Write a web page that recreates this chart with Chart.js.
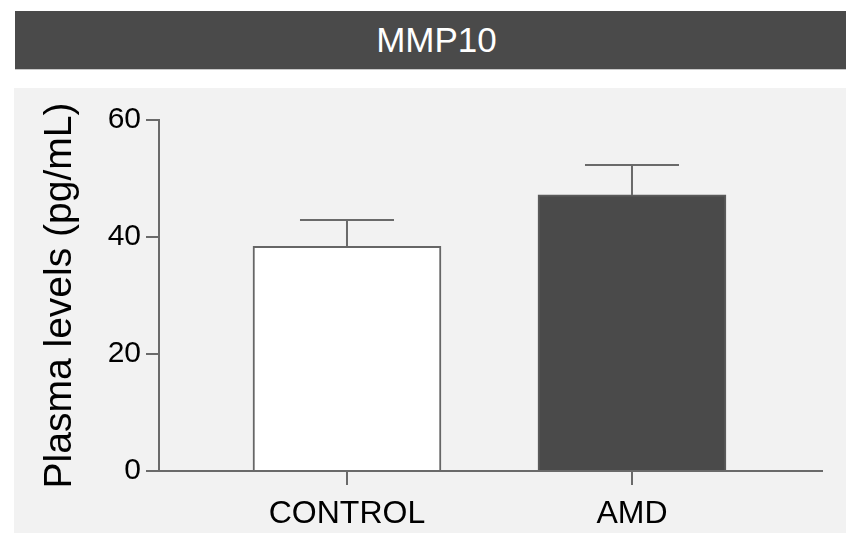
<!DOCTYPE html>
<html>
<head>
<meta charset="utf-8">
<script src="https://cdn.jsdelivr.net/npm/chart.js@4/dist/chart.umd.min.js"></script>
<style>
  html, body { margin: 0; padding: 0; background: #ffffff; }
  body { width: 846px; height: 533px; position: relative; overflow: hidden; font-family: 'Liberation Sans', Arial, sans-serif; }
  #title-bar {
    position: absolute; left: 15px; top: 11px; width: 831px; height: 58px;
    background: #4a4a4a; color: #ffffff; font-size: 35px; line-height: 58px;
    text-align: center; text-indent: 12px; border-bottom: 1px solid #c8c8c8;
  }
  #panel { position: absolute; left: 14px; top: 88px; width: 832px; height: 445px; background: #f2f2f2; }
  #chart { display: block; }
</style>
</head>
<body>
<div id="title-bar">MMP10</div>
<div id="panel"><canvas id="chart" width="832" height="445"></canvas></div>
<script>
// Data
const groups = ['CONTROL', 'AMD'];
const means  = [38.4, 47.2];
const sems   = [4.5, 5.1];
const yTicks = [0, 20, 40, 60];

const barFill   = ['#ffffff', '#4a4a4a'];
const barBorder = ['#666666', '#5a5a5a'];
const AXIS = '#6a6a6a';
const FONT = "'Liberation Sans', Arial, sans-serif";

// Error bars (mean + SEM, upper only)
const errorBars = {
  id: 'errorBars',
  afterDatasetsDraw(chart) {
    const { ctx, scales: { x, y } } = chart;
    ctx.save();
    ctx.strokeStyle = AXIS;
    ctx.lineWidth = 2;
    means.forEach((m, i) => {
      const px = x.getPixelForValue(i);
      const yTop = y.getPixelForValue(m);
      const yErr = y.getPixelForValue(m + sems[i]);
      ctx.beginPath();
      ctx.moveTo(px, yTop);
      ctx.lineTo(px, yErr);
      ctx.moveTo(px - 47, yErr);
      ctx.lineTo(px + 47, yErr);
      ctx.stroke();
    });
    ctx.restore();
  }
};

new Chart(document.getElementById('chart'), {
  type: 'bar',
  data: {
    datasets: [{
      data: means.map((m, i) => ({ x: i, y: m })),
      backgroundColor: barFill,
      borderColor: barBorder,
      borderWidth: 2,
      barThickness: 188,
      grouped: false,
    }],
  },
  options: {
    responsive: false,
    animation: false,
    layout: { padding: { top: 32, right: 24, left: 0, bottom: 0 } },
    plugins: { legend: { display: false }, tooltip: { enabled: false } },
    scales: {
      x: {
        type: 'linear',
        offset: false,
        min: -0.6596,
        max: 1.6667,
        afterBuildTicks: s => { s.ticks = groups.map((g, i) => ({ value: i })); },
        afterFit: s => { s.height = 62; },
        border: { color: AXIS, width: 2 },
        grid: { offset: false, drawOnChartArea: false, tickLength: 14, tickColor: AXIS, lineWidth: 2 },
        ticks: {
          color: '#000000',
          font: { family: FONT, size: 32 },
          padding: 10,
          maxRotation: 0,
          autoSkip: false,
          callback: v => groups[v],
        },
      },
      y: {
        min: 0,
        max: 60,
        afterBuildTicks: s => { s.ticks = yTicks.map(v => ({ value: v })); },
        afterFit: s => { s.width = 145; },
        border: { color: AXIS, width: 2 },
        grid: { drawOnChartArea: false, tickLength: 13, tickColor: AXIS, lineWidth: 2 },
        ticks: {
          color: '#000000',
          font: { family: FONT, size: 30 },
          padding: 5,
        },
        title: {
          display: true,
          text: 'Plasma levels (pg/mL)',
          color: '#000000',
          font: { family: FONT, size: 39 },
          padding: { top: 23, bottom: 0 },
        },
      },
    },
  },
  plugins: [errorBars],
});
</script>
</body>
</html>
